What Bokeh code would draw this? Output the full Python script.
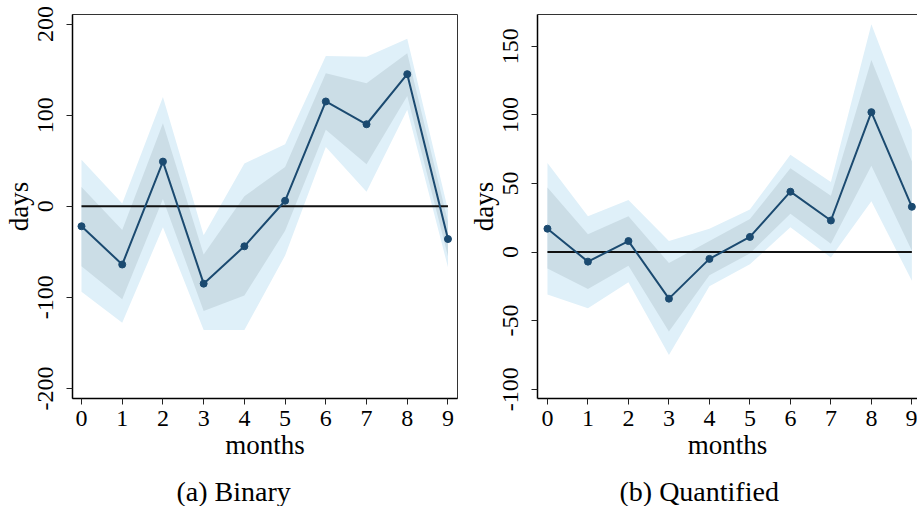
from bokeh.plotting import figure
from bokeh.layouts import row
from bokeh.models import Range1d, FixedTicker, Title, LinearAxis
from bokeh.embed import file_html
from bokeh.resources import INLINE

months = [0, 1, 2, 3, 4, 5, 6, 7, 8, 9]

# (a) Binary
bin_est = [-22, -64, 49, -85, -44, 6, 115, 90, 145, -36]
bin_inner_lo = [-66, -102, 8, -115, -98, -27, 84, 46, 121, -55]
bin_inner_hi = [21, -26, 91, -53, 11, 43, 146, 135, 168, -17]
bin_outer_lo = [-94, -128, -23, -136, -136, -54, 65, 16, 106, -67]
bin_outer_hi = [51, 3, 120, -32, 47, 68, 165, 164, 184, -4]
bin_yticks = [-200, -100, 0, 100, 200]

# (b) Quantified
q_est = [17, -7, 8, -34, -5, 11, 44, 23, 102, 33]
q_inner_lo = [-12, -27, -10, -58, -17, -1, 28, 6, 63, 1]
q_inner_hi = [47, 13, 26, -8, 8, 24, 61, 41, 140, 66]
q_outer_lo = [-31, -41, -22, -75, -25, -9, 18, -4, 37, -21]
q_outer_hi = [65, 26, 38, 8, 17, 31, 71, 51, 166, 89]
q_yticks = [-100, -50, 0, 50, 100, 150]

zeros = [0] * len(months)

FONT = "Liberation Serif"
LINE = "#1b4a70"
OUTER = "#dff0f9"
INNER = "#cbdde6"


def make_panel(width, xr, yr, yticks, est, ilo, ihi, olo, ohi, caption, cap_offset,
               mbl, mbr, mbt, right_open=False):
    p = figure(width=width, height=506, x_range=Range1d(*xr), y_range=Range1d(*yr),
               output_backend="svg", toolbar_location=None,
               min_border_left=mbl, min_border_right=mbr,
               min_border_top=mbt, min_border_bottom=0)
    p.grid.visible = False
    p.background_fill_color = "white"
    p.border_fill_color = "white"

    p.varea(x=months, y1=olo, y2=ohi, fill_color=OUTER, fill_alpha=1)
    p.varea(x=months, y1=ilo, y2=ihi, fill_color=INNER, fill_alpha=1)
    p.line(x=months, y=zeros, line_color="#111111", line_width=2)
    p.line(x=months, y=est, line_color=LINE, line_width=2)
    p.scatter(x=months, y=est, size=7, fill_color=LINE, line_color=LINE)

    xax = p.below[0]
    yax = p.left[0]
    for ax in (xax, yax):
        ax.axis_line_color = "black"
        ax.axis_line_width = 1.5
        ax.major_tick_line_color = "#222222"
        ax.major_tick_line_width = 1
        ax.major_tick_out = 6
        ax.major_tick_in = 0
        ax.minor_tick_out = 0
        ax.minor_tick_in = 0
        ax.major_label_text_font = FONT
        ax.major_label_text_font_size = "24px"
        ax.major_label_text_color = "black"
        ax.axis_label_text_font = FONT
        ax.axis_label_text_font_size = "27px"
        ax.axis_label_text_font_style = "normal"
        ax.axis_label_text_color = "black"

    xax.ticker = FixedTicker(ticks=months)
    xax.axis_label = "months"
    xax.major_label_standoff = 6
    xax.axis_label_standoff = 1

    yax.ticker = FixedTicker(ticks=yticks)
    yax.major_label_overrides = {t: str(t) for t in yticks}
    yax.axis_label = "days"
    yax.major_label_orientation = "vertical"
    yax.major_label_standoff = 13
    yax.axis_label_standoff = 2

    if right_open:
        p.outline_line_color = None
        top = LinearAxis(ticker=FixedTicker(ticks=[]), axis_line_color="#333333",
                         axis_line_width=1, major_tick_out=0, major_tick_in=0,
                         minor_tick_out=0, major_label_standoff=0)
        p.add_layout(top, "above")
    else:
        p.outline_line_color = "#333333"
        p.outline_line_width = 1

    # spacer between axis label and caption
    p.add_layout(Title(text=" ", text_font_size="1px", standoff=8), "below")
    p.add_layout(Title(text=caption, align="left", offset=cap_offset,
                       text_font=FONT, text_font_size="28px",
                       text_font_style="normal", text_color="black",
                       standoff=0), "below")
    return p


p1 = make_panel(465, (-0.221, 9.234), (-211.1, 210.5), bin_yticks,
                bin_est, bin_inner_lo, bin_inner_hi, bin_outer_lo, bin_outer_hi,
                "(a) Binary", 104, 72, 8, 13)
p2 = make_panel(452, (-0.246, 9.139), (-106.8, 173.2), q_yticks,
                q_est, q_inner_lo, q_inner_hi, q_outer_lo, q_outer_hi,
                "(b) Quantified", 82, 71, 0, 14, right_open=True)

layout = row(p1, p2)
open("out.html", "w").write(file_html(layout, INLINE))
